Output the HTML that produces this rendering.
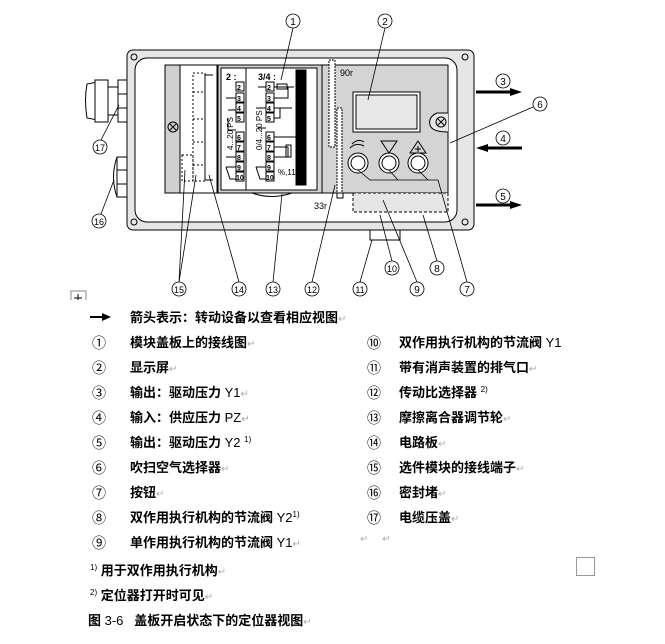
<!DOCTYPE html>
<html><head><meta charset="utf-8"><style>
body{margin:0;width:665px;height:644px;background:#fff;position:relative;overflow:hidden;font-family:"Liberation Sans","Noto Sans CJK SC",sans-serif}
.t{position:absolute;font-size:13px;font-weight:bold;color:#000;white-space:nowrap;line-height:16px}
.n{position:absolute;font-size:14px;color:#000;line-height:16px}
.r{color:#aaa;font-weight:normal;font-size:10px}
.s{font-size:8px;font-weight:normal;position:relative;top:-5px;line-height:0}
.l{font-weight:normal}
</style></head><body>
<svg width="665" height="300" style="position:absolute;left:0;top:0" font-family="Liberation Sans,sans-serif">
<g stroke="#000" fill="none" stroke-width="1">
<rect x="127" y="50" width="347" height="180" rx="6" fill="#e6e6e6"/>
<rect x="135" y="58" width="322" height="164" rx="12" fill="#fff"/>
<circle cx="134" cy="57" r="3"/><circle cx="134" cy="222" r="3"/><circle cx="465" cy="57" r="3"/><circle cx="465" cy="222" r="3"/>
<path d="M87 84 Q84 100 87 118 L108 122 L108 80 Z" fill="#fff"/>
<rect x="95" y="80" width="13" height="42" fill="#fff"/>
<rect x="108" y="87" width="10" height="28" fill="#fff"/>
<rect x="118" y="80" width="9" height="42" fill="#fff"/>
<line x1="118" y1="94" x2="127" y2="94"/><line x1="118" y1="108" x2="127" y2="108"/>
<path d="M117 157 Q110 177 117 197" />
<rect x="117" y="157" width="10" height="40" fill="#fff"/>
<line x1="117" y1="170" x2="127" y2="170"/><line x1="117" y1="184" x2="127" y2="184"/>
<rect x="165" y="65" width="52" height="128" fill="#fff"/>
<rect x="165" y="65" width="15" height="128" fill="#d0d0d0"/>
<circle cx="173" cy="127" r="5"/><path d="M170 124l6 6M176 124l-6 6"/>
<g stroke-dasharray="2,2"><rect x="193" y="73" width="12" height="108"/><line x1="193" y1="92" x2="205" y2="92"/><line x1="193" y1="119" x2="205" y2="119"/><line x1="193" y1="142" x2="205" y2="142"/><line x1="193" y1="165" x2="205" y2="165"/><rect x="182" y="155" width="11" height="26"/></g>
<path d="M213 75 L205 75 L205 180 L213 180"/>
<rect x="218" y="65" width="230" height="128" fill="#d4d4d4"/>
<rect x="221" y="68" width="96" height="122" fill="#fff"/>
<line x1="246" y1="68" x2="246" y2="190"/>
<rect x="296" y="70" width="10" height="115" fill="#000"/>
<line x1="322" y1="65" x2="322" y2="193"/>
<path d="M252 193 Q272 200 292 193"/>
<rect x="329" y="60" width="6" height="87" fill="#fff" stroke-dasharray="2,1"/>
<rect x="337" y="108" width="5" height="85" fill="#fff" stroke-dasharray="2,1"/>
<rect x="337" y="193" width="6" height="5" fill="#fff"/>
<rect x="353" y="92" width="67" height="40" fill="#fff"/><rect x="356" y="95" width="61" height="34" fill="#e8e8e8"/>
<path d="M448 113 L437 113 Q428 117 430 125 Q432 132 448 132" fill="#e8e8e8"/><circle cx="441" cy="122" r="5"/><path d="M438 119l6 6M444 119l-6 6"/>
<circle cx="358" cy="163" r="10" fill="#fff"/><circle cx="358" cy="163" r="7"/>
<circle cx="389" cy="163" r="10" fill="#fff"/><circle cx="389" cy="163" r="7"/>
<circle cx="418" cy="163" r="10" fill="#fff"/><circle cx="418" cy="163" r="7"/>
<path d="M381 141h16l-8 12z"/><path d="M410 153l8-12 8 12z"/><path d="M415 149h6M418 146v6"/>
<path d="M350 148 q6 -6 14 -2 M352 144 q6-6 12-2"/>
<rect x="353" y="193" width="95" height="19" stroke-dasharray="3,2" fill="#e6e6e6"/>
<rect x="370" y="230" width="30" height="10" fill="#fff"/>
</g>
<g font-size="9" font-weight="bold">
<text x="226" y="80">2 :</text><text x="258" y="80">3/4 :</text>
<g fill="#fff" stroke="#000"><rect x="236" y="82" width="8" height="9"/><rect x="236" y="93" width="8" height="9"/><rect x="236" y="103" width="8" height="9"/><rect x="236" y="113" width="8" height="9"/><rect x="236" y="132" width="8" height="9"/><rect x="236" y="142" width="8" height="9"/><rect x="236" y="152" width="8" height="9"/><rect x="236" y="162" width="8" height="9"/><rect x="236" y="172" width="8" height="9"/>
<rect x="266" y="82" width="8" height="9"/><rect x="266" y="93" width="8" height="9"/><rect x="266" y="103" width="8" height="9"/><rect x="266" y="113" width="8" height="9"/><rect x="266" y="132" width="8" height="9"/><rect x="266" y="142" width="8" height="9"/><rect x="266" y="152" width="8" height="9"/><rect x="266" y="162" width="8" height="9"/><rect x="266" y="172" width="8" height="9"/><rect x="277" y="84" width="10" height="5"/><rect x="286" y="145" width="5" height="12"/></g>
<g font-size="7"><text x="237" y="90">2</text><text x="237" y="101">3</text><text x="237" y="111">4</text><text x="237" y="121">5</text><text x="237" y="140">6</text><text x="237" y="150">7</text><text x="237" y="160">8</text><text x="237" y="170">9</text><text x="236" y="180">10</text>
<text x="267" y="90">2</text><text x="267" y="101">3</text><text x="267" y="111">4</text><text x="267" y="121">5</text><text x="267" y="140">6</text><text x="267" y="150">7</text><text x="267" y="160">8</text><text x="267" y="170">9</text><text x="266" y="180">10</text></g>
<text x="278" y="175" font-weight="normal" font-size="8">%,11</text>
<text transform="translate(233,150) rotate(-90)" font-weight="normal" font-size="8">4...20 PS</text>
<text transform="translate(262,150) rotate(-90)" font-weight="normal" font-size="8">0/4...20 PS</text>
</g>
<g stroke="#000" fill="none"><path d="M226 98h10M226 157h10M228 110h8M228 118v12h8M258 87h8M258 128h8M256 108h10M274 87h20M274 98h14v-11M274 108h18M274 118h6v-10M274 137h22M274 147h14v10h-14M226 167h10M226 167l4 12h6M256 167h10M256 167l4 12h6"/></g>
<text x="340" y="76" font-size="9">90r</text><text x="314" y="209" font-size="9">33r</text>
<g stroke="#000" stroke-width="3"><line x1="476" y1="92" x2="512" y2="92"/><line x1="486" y1="148" x2="522" y2="148"/><line x1="476" y1="205" x2="512" y2="205"/></g>
<g fill="#000"><path d="M510 88l12 4-12 4z"/><path d="M488 144l-12 4 12 4z"/><path d="M510 201l12 4-12 4z"/></g>
<g stroke="#000" fill="none" stroke-width="0.8">
<path d="M293 28 L281 80"/><path d="M385 28 L368 100"/><path d="M533 107 L450 143"/>
<path d="M101 140 L119 105"/><path d="M101 214 L114 180"/>
<path d="M179 282 L185 170M179 282 L196 175"/><path d="M239 282 L209 175"/><path d="M273 282 L282 194"/><path d="M312 282 L335 185"/>
<path d="M360 282 L372 240"/><path d="M392 261 L380 215"/><path d="M417 282 L383 200"/><path d="M437 261 L423 215"/><path d="M467 282 L438 180 L370 180 L358 170M389 170 L398 180M418 170 L428 180"/>
</g>
<g font-size="10" text-anchor="middle" stroke-width="0.8">
<g fill="#fff" stroke="#000">
<circle cx="293" cy="21" r="7"/><circle cx="385" cy="21" r="7"/><circle cx="503" cy="81" r="7"/><circle cx="540" cy="104" r="7"/><circle cx="503" cy="138" r="7"/><circle cx="503" cy="196" r="7"/><circle cx="100" cy="147" r="7"/><circle cx="99" cy="221" r="7"/><circle cx="179" cy="289" r="7"/><circle cx="239" cy="289" r="7"/><circle cx="273" cy="289" r="7"/><circle cx="312" cy="289" r="7"/><circle cx="360" cy="289" r="7"/><circle cx="392" cy="268" r="7"/><circle cx="417" cy="289" r="7"/><circle cx="437" cy="268" r="7"/><circle cx="467" cy="289" r="7"/></g>
<text x="293" y="25">1</text><text x="385" y="25">2</text><text x="503" y="85">3</text><text x="540" y="108">6</text><text x="503" y="142">4</text><text x="503" y="200">5</text><text x="100" y="151" font-size="9">17</text><text x="99" y="225" font-size="9">16</text><text x="179" y="293" font-size="9">15</text><text x="239" y="293" font-size="9">14</text><text x="273" y="293" font-size="9">13</text><text x="312" y="293" font-size="9">12</text><text x="360" y="293" font-size="9">11</text><text x="392" y="272" font-size="9">10</text><text x="417" y="293">9</text><text x="437" y="272">8</text><text x="467" y="293">7</text>
</g>
<rect x="71" y="291" width="15" height="14" fill="#fff" stroke="#888"/><path d="M78 294v8M74 298h8" stroke="#000"/>
</svg>
<svg width="30" height="10" style="position:absolute;left:90px;top:312px"><line x1="0" y1="5" x2="14" y2="5" stroke="#000" stroke-width="2"/><path d="M12 1l9 4-9 4z"/></svg>
<div class="t" style="left:130px;top:310px">箭头表示：转动设备以查看相应视图<span class="r">↵</span></div>
<div class="n" style="left:92px;top:335px">①</div><div class="t" style="left:130px;top:335px">模块盖板上的接线图<span class="r">↵</span></div>
<div class="n" style="left:92px;top:360px">②</div><div class="t" style="left:130px;top:360px">显示屏<span class="r">↵</span></div>
<div class="n" style="left:92px;top:385px">③</div><div class="t" style="left:130px;top:385px">输出：驱动压力 <span class="l">Y1</span><span class="r">↵</span></div>
<div class="n" style="left:92px;top:410px">④</div><div class="t" style="left:130px;top:410px">输入：供应压力 <span class="l">PZ</span><span class="r">↵</span></div>
<div class="n" style="left:92px;top:435px">⑤</div><div class="t" style="left:130px;top:435px">输出：驱动压力 <span class="l">Y2</span> <span class="s">1)</span></div>
<div class="n" style="left:92px;top:460px">⑥</div><div class="t" style="left:130px;top:460px">吹扫空气选择器<span class="r">↵</span></div>
<div class="n" style="left:92px;top:485px">⑦</div><div class="t" style="left:130px;top:485px">按钮<span class="r">↵</span></div>
<div class="n" style="left:92px;top:510px">⑧</div><div class="t" style="left:130px;top:510px">双作用执行机构的节流阀 <span class="l">Y2</span><span class="s">1)</span></div>
<div class="n" style="left:92px;top:535px">⑨</div><div class="t" style="left:130px;top:535px">单作用执行机构的节流阀 <span class="l">Y1</span><span class="r">↵</span></div>
<div class="n" style="left:367px;top:335px">⑩</div><div class="t" style="left:399px;top:335px">双作用执行机构的节流阀 <span class="l">Y1</span></div>
<div class="n" style="left:367px;top:360px">⑪</div><div class="t" style="left:399px;top:360px">带有消声装置的排气口<span class="r">↵</span></div>
<div class="n" style="left:367px;top:385px">⑫</div><div class="t" style="left:399px;top:385px">传动比选择器 <span class="s">2)</span></div>
<div class="n" style="left:367px;top:410px">⑬</div><div class="t" style="left:399px;top:410px">摩擦离合器调节轮<span class="r">↵</span></div>
<div class="n" style="left:367px;top:435px">⑭</div><div class="t" style="left:399px;top:435px">电路板<span class="r">↵</span></div>
<div class="n" style="left:367px;top:460px">⑮</div><div class="t" style="left:399px;top:460px">选件模块的接线端子<span class="r">↵</span></div>
<div class="n" style="left:367px;top:485px">⑯</div><div class="t" style="left:399px;top:485px">密封堵<span class="r">↵</span></div>
<div class="n" style="left:367px;top:510px">⑰</div><div class="t" style="left:399px;top:510px">电缆压盖<span class="r">↵</span></div>
<div class="t" style="left:360px;top:530px"><span class="r">↵ &nbsp; &nbsp; ↵</span></div>
<div style="position:absolute;left:576px;top:557px;width:17px;height:17px;border:1px solid #999"></div>
<div class="t" style="left:90px;top:563px"><span class="s">1)</span> 用于双作用执行机构<span class="r">↵</span></div>
<div class="t" style="left:90px;top:588px"><span class="s">2)</span> 定位器打开时可见<span class="r">↵</span></div>
<div class="t" style="left:88px;top:613px">图 <span class="l">3-6</span> &nbsp; 盖板开启状态下的定位器视图<span class="r">↵</span></div>
</body></html>
